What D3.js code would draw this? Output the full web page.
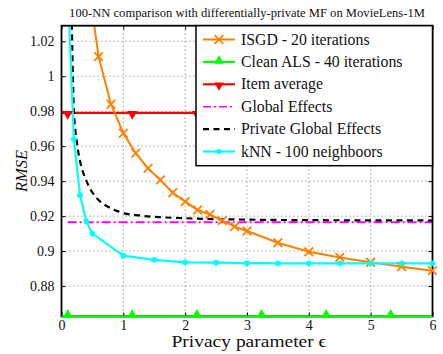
<!DOCTYPE html>
<html>
<head>
<meta charset="utf-8">
<script src="https://cdn.jsdelivr.net/npm/d3@7"></script>
<style>
  html, body { margin: 0; padding: 0; background: #fff; }
  svg { display: block; }
  svg text { font-family: "Liberation Serif", "DejaVu Serif", serif !important; }
</style>
</head>
<body>
<svg id="chart" width="443" height="354"></svg>
<script>
// ISGD - 20 iterations
const isgdEps  = [0.4, 0.6, 0.8, 1.0, 1.2, 1.4, 1.6, 1.8, 2.0, 2.2, 2.4, 2.6, 2.8, 3.0, 3.5, 4.0, 4.5, 5.0, 5.5, 6.0];
const isgdRmse = [1.062, 1.0112, 0.984, 0.9674, 0.956, 0.9473, 0.9407, 0.9334, 0.9283, 0.9235, 0.921, 0.9174, 0.914, 0.9115, 0.9048, 0.8996, 0.8964, 0.8936, 0.8911, 0.8888];

// kNN - 100 neighboors
const knnEps  = [0.1, 0.2, 0.3, 0.4, 0.5, 1.0, 1.5, 2.0, 2.5, 3.0, 3.5, 4.0, 4.5, 5.0, 5.5, 6.0];
const knnRmse = [1.052, 0.964, 0.932, 0.917, 0.910, 0.8974, 0.895, 0.8936, 0.8934, 0.8931, 0.893, 0.893, 0.893, 0.893, 0.893, 0.893];

// Private Global Effects
const pgeEps  = [0.15, 0.175, 0.2, 0.25, 0.3, 0.4, 0.5, 0.6, 0.8, 1.0, 1.25, 1.5, 2.0, 2.5, 3.0, 4.0, 5.0, 6.0];
const pgeRmse = [1.06, 1.015, 0.981, 0.962, 0.9515, 0.9405, 0.9335, 0.9292, 0.9245, 0.9218, 0.9204, 0.9196, 0.9188, 0.9183, 0.918, 0.9177, 0.9176, 0.9175];

// Baselines that do not depend on epsilon
const flatEps        = [0.1, 1.145, 2.19, 3.235, 4.28, 5.325, 6.0];
const cleanAlsRmse   = [0.8626, 0.8626, 0.8626, 0.8626, 0.8626, 0.8626, 0.8626];
const itemAvgRmse    = [0.979, 0.979, 0.979, 0.979, 0.979, 0.979, 0.979];
const globalEffRmse  = [0.9165, 0.9165, 0.9165, 0.9165, 0.9165, 0.9165, 0.9165];

const xTicks = [0, 1, 2, 3, 4, 5, 6];
const yTicks = [0.88, 0.9, 0.92, 0.94, 0.96, 0.98, 1, 1.02];
const yTickLabels = ["0.88", "0.9", "0.92", "0.94", "0.96", "0.98", "1", "1.02"];

const legendNames = ["ISGD - 20 iterations", "Clean ALS - 40 iterations", "Item average",
                     "Global Effects", "Private Global Effects", "kNN - 100 neighboors"];

const FONT = "'Liberation Serif', 'DejaVu Serif', serif";
const svg = d3.select("#chart");
const L = 61.5, R = 432.5, T = 25.7, B = 316.5;

const x = d3.scaleLinear().domain([0, 6]).range([L, R]);
const y = d3.scaleLinear().domain([0.8626, 1.0289]).range([B, T]);

svg.append("defs").append("clipPath").attr("id", "plotClip")
  .append("rect").attr("x", L).attr("y", T).attr("width", R - L).attr("height", B - T);

// dotted grid
const grid = svg.append("g");
grid.selectAll(".gx").data(xTicks.slice(1, -1)).join("line")
  .attr("x1", d => x(d)).attr("x2", d => x(d)).attr("y1", T).attr("y2", B)
  .attr("stroke", "#555").attr("stroke-width", 0.8).attr("stroke-dasharray", "1,3");
grid.selectAll(".gy").data(yTicks).join("line")
  .attr("x1", L).attr("x2", R).attr("y1", d => y(d)).attr("y2", d => y(d))
  .attr("stroke", "#555").attr("stroke-width", 0.8).attr("stroke-dasharray", "1,3");

// axes with inward ticks
const axB = svg.append("g").attr("transform", `translate(0,${B})`)
  .call(d3.axisBottom(x).tickValues(xTicks).tickFormat(d3.format("d")).tickSizeInner(-4).tickSizeOuter(0).tickPadding(4));
const axL = svg.append("g").attr("transform", `translate(${L},0)`)
  .call(d3.axisLeft(y).tickValues(yTicks).tickFormat((d, i) => yTickLabels[i]).tickSizeInner(-4).tickSizeOuter(0).tickPadding(7));
const axT = svg.append("g").attr("transform", `translate(0,${T})`)
  .call(d3.axisTop(x).tickValues(xTicks).tickFormat("").tickSizeInner(-4).tickSizeOuter(0));
const axR = svg.append("g").attr("transform", `translate(${R},0)`)
  .call(d3.axisRight(y).tickValues(yTicks).tickFormat("").tickSizeInner(-4).tickSizeOuter(0));
[axB, axL, axT, axR].forEach(g => {
  g.attr("font-family", FONT);
  g.select(".domain").remove();
  g.selectAll(".tick line").attr("stroke", "#000").attr("stroke-width", 1);
  g.selectAll(".tick text").attr("fill", "#111").attr("font-size", 14);
});

const plot = svg.append("g").attr("clip-path", "url(#plotClip)");
const lineGen = (xs, ys, curve) => d3.line().x((d, i) => x(xs[i])).y(d => y(d)).curve(curve || d3.curveLinear)(ys);

// series lines
plot.append("path").attr("d", lineGen([0].concat(flatEps.slice(1)), itemAvgRmse))
  .attr("fill", "none").attr("stroke", "#ff0000").attr("stroke-width", 2.2);
plot.append("path").attr("d", lineGen(flatEps, globalEffRmse))
  .attr("fill", "none").attr("stroke", "#ff00ff").attr("stroke-width", 2).attr("stroke-dasharray", "9,3,2,3");
plot.append("path").attr("d", lineGen(pgeEps, pgeRmse, d3.curveMonotoneX))
  .attr("fill", "none").attr("stroke", "#000").attr("stroke-width", 2.2).attr("stroke-dasharray", "6,4.5");
plot.append("path").attr("d", lineGen(isgdEps, isgdRmse))
  .attr("fill", "none").attr("stroke", "#ff8000").attr("stroke-width", 2);
plot.append("path").attr("d", lineGen(knnEps, knnRmse))
  .attr("fill", "none").attr("stroke", "#00ffff").attr("stroke-width", 2.2);

// axis box
svg.append("rect").attr("x", L).attr("y", T).attr("width", R - L).attr("height", B - T)
  .attr("fill", "none").attr("stroke", "#000").attr("stroke-width", 1.8);

plot.append("path").attr("d", lineGen([0].concat(flatEps.slice(1)), cleanAlsRmse))
  .attr("fill", "none").attr("stroke", "#00ff00").attr("stroke-width", 2.2);
svg.append("path").attr("d", `M${L},${B}L${R},${B}`).attr("stroke", "#00ff00").attr("stroke-width", 2.2);

// markers
const sym = (type, size) => d3.symbol().type(type).size(size)();
const inPlot = (xs, ys) => xs.map((v, i) => [v, ys[i]]).filter(p => p[1] <= 1.0289 && p[1] >= 0.86);

const mk = svg.append("g");
mk.selectAll(".isgd").data(inPlot(isgdEps, isgdRmse)).join("path")
  .attr("d", sym(d3.symbolX, 50))
  .attr("transform", d => `translate(${x(d[0])},${y(d[1])})`)
  .attr("fill", "none").attr("stroke", "#ff8000").attr("stroke-width", 1.8);
mk.selectAll(".knn").data(inPlot(knnEps, knnRmse)).join("circle")
  .attr("cx", d => x(d[0])).attr("cy", d => y(d[1])).attr("r", 2.8).attr("fill", "#00ffff");
mk.selectAll(".item").data(inPlot(flatEps.slice(0, -1), itemAvgRmse)).join("path")
  .attr("d", sym(d3.symbolTriangle, 45))
  .attr("transform", d => `translate(${x(d[0])},${y(d[1]) + 1}) rotate(180)`)
  .attr("fill", "#ff0000");
mk.selectAll(".als").data(inPlot(flatEps.slice(0, -1), cleanAlsRmse)).join("path")
  .attr("d", sym(d3.symbolTriangle, 45))
  .attr("transform", d => `translate(${x(d[0])},${y(d[1]) - 1.5})`)
  .attr("fill", "#00ff00");

// legend
const lg = svg.append("g").attr("font-family", FONT);
const lgX = 196, lgY = T, lgW = R - 196, lgH = 140;
lg.append("rect").attr("x", lgX).attr("y", lgY).attr("width", lgW).attr("height", lgH)
  .attr("fill", "#fff").attr("stroke", "#000").attr("stroke-width", 1.5);
const rowY = i => 39.5 + i * 22.4;
const styles = [
  { c: "#ff8000", dash: null, w: 2, m: "x" },
  { c: "#00ff00", dash: null, w: 2.2, m: "tri" },
  { c: "#ff0000", dash: null, w: 2.2, m: "tridown" },
  { c: "#ff00ff", dash: "8,3,2,3", w: 1.5, m: null },
  { c: "#000", dash: "6,4.5", w: 2.2, m: null },
  { c: "#00ffff", dash: null, w: 2.2, m: "dot" }
];
styles.forEach((s, i) => {
  const yy = rowY(i), x0 = 203, x1 = 235, xm = 219;
  const ln = lg.append("line").attr("x1", x0).attr("x2", x1).attr("y1", yy).attr("y2", yy)
    .attr("stroke", s.c).attr("stroke-width", s.w);
  if (s.dash) ln.attr("stroke-dasharray", s.dash);
  if (s.m === "x") lg.append("path").attr("d", sym(d3.symbolX, 50)).attr("transform", `translate(${xm},${yy})`)
    .attr("fill", "none").attr("stroke", s.c).attr("stroke-width", 1.8);
  if (s.m === "tri") lg.append("path").attr("d", sym(d3.symbolTriangle, 40)).attr("transform", `translate(${xm},${yy - 1})`).attr("fill", s.c);
  if (s.m === "tridown") lg.append("path").attr("d", sym(d3.symbolTriangle, 40)).attr("transform", `translate(${xm},${yy + 1}) rotate(180)`).attr("fill", s.c);
  if (s.m === "dot") lg.append("circle").attr("cx", xm).attr("cy", yy).attr("r", 2.5).attr("fill", s.c);
  lg.append("text").attr("x", 241).attr("y", yy + 5).attr("font-size", 15.8).attr("fill", "#111")
    .text(legendNames[i]);
});

// title and axis labels
svg.append("text").attr("x", 247).attr("y", 17).attr("text-anchor", "middle")
  .attr("font-size", 12.6).attr("fill", "#111")
  .text("100-NN comparison with differentially-private MF on MovieLens-1M");
svg.append("text").attr("x", 249).attr("y", 347).attr("text-anchor", "middle")
  .attr("font-size", 17).attr("textLength", 155).attr("lengthAdjust", "spacingAndGlyphs")
  .attr("fill", "#111").text("Privacy parameter ϵ");
svg.append("text").attr("transform", "translate(27,171) rotate(-90)").attr("text-anchor", "middle")
  .attr("font-size", 16.5).attr("font-style", "italic").attr("fill", "#111").text("RMSE");
</script>
</body>
</html>
